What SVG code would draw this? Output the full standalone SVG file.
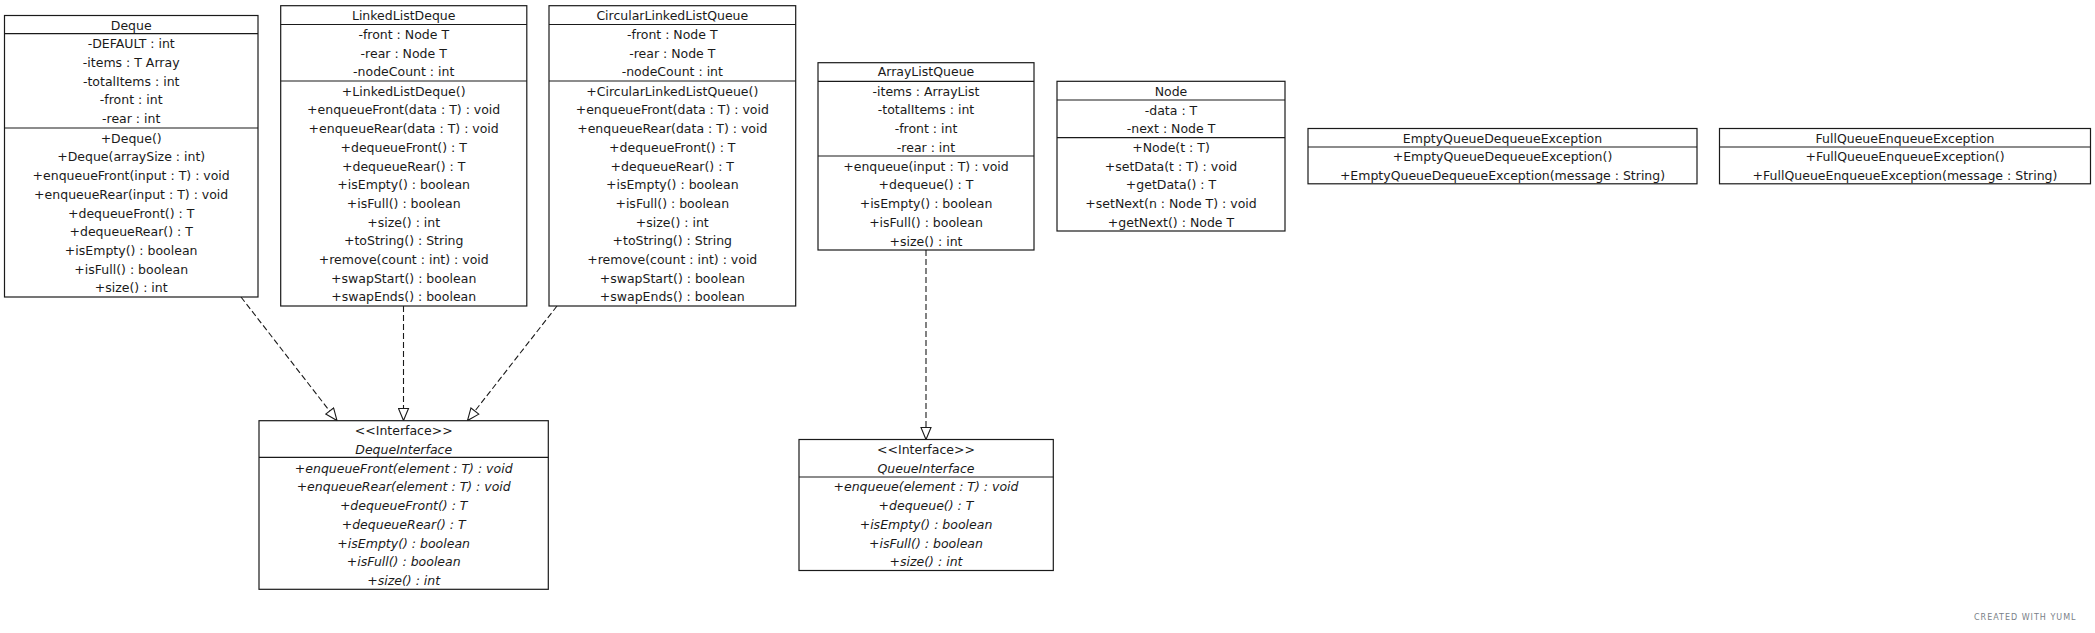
<svg xmlns="http://www.w3.org/2000/svg" width="2095" height="633" viewBox="0 0 2095 633">
<style>
  .box { fill: #ffffff; stroke: #1a1a1a; stroke-width: 1.2; }
  .sep { stroke: #1a1a1a; stroke-width: 1.2; }
  text { font-family: "DejaVu Sans", "Liberation Sans", sans-serif; font-size: 12.5px; fill: #1a1a1a; text-anchor: middle; }
  .it { font-style: italic; }
  .edge { fill: none; stroke: #1a1a1a; stroke-width: 1.1; stroke-dasharray: 6,3; }
  .credit { font-size: 8px; fill: #7a7f88; letter-spacing: 1px; text-anchor: start; }
</style>
<defs>
  <marker id="realize" markerUnits="userSpaceOnUse" markerWidth="14" markerHeight="12" refX="13" refY="6" orient="auto">
    <path d="M1,1 L13,6 L1,11 z" fill="#ffffff" stroke="#1a1a1a" stroke-width="1.1"/>
  </marker>
</defs>
<rect width="2095" height="633" fill="#ffffff"/>

<g id="edges">
  <line class="edge" x1="241" y1="297" x2="337" y2="420.5" marker-end="url(#realize)"/>
  <line class="edge" x1="403.5" y1="306" x2="403.5" y2="420.5" marker-end="url(#realize)"/>
  <line class="edge" x1="557" y1="306" x2="467.5" y2="420.5" marker-end="url(#realize)"/>
  <line class="edge" x1="926" y1="250" x2="926" y2="439.5" marker-end="url(#realize)"/>
</g>

<g id="Deque">
  <rect class="box" x="4.5" y="15.5" width="253.5" height="281.5"/>
  <line class="sep" x1="4.5" y1="33.7" x2="258" y2="33.7"/>
  <line class="sep" x1="4.5" y1="128" x2="258" y2="128"/>
  <text x="131.2" y="29.5">Deque</text>
  <text x="131.2" y="48.3">-DEFAULT : int</text>
  <text x="131.2" y="67">-items : T Array</text>
  <text x="131.2" y="85.7">-totalItems : int</text>
  <text x="131.2" y="104.4">-front : int</text>
  <text x="131.2" y="123.1">-rear : int</text>
  <text x="131.2" y="142.7">+Deque()</text>
  <text x="131.2" y="161.4">+Deque(arraySize : int)</text>
  <text x="131.2" y="180.1">+enqueueFront(input : T) : void</text>
  <text x="131.2" y="198.8">+enqueueRear(input : T) : void</text>
  <text x="131.2" y="217.5">+dequeueFront() : T</text>
  <text x="131.2" y="236.2">+dequeueRear() : T</text>
  <text x="131.2" y="254.9">+isEmpty() : boolean</text>
  <text x="131.2" y="273.6">+isFull() : boolean</text>
  <text x="131.2" y="292.3">+size() : int</text>
</g>

<g id="LinkedListDeque">
  <rect class="box" x="280.7" y="5.7" width="246.1" height="300.3"/>
  <line class="sep" x1="280.7" y1="24.5" x2="526.8" y2="24.5"/>
  <line class="sep" x1="280.7" y1="81" x2="526.8" y2="81"/>
  <text x="403.7" y="20.3">LinkedListDeque</text>
  <text x="403.7" y="39">-front : Node T</text>
  <text x="403.7" y="57.7">-rear : Node T</text>
  <text x="403.7" y="76.4">-nodeCount : int</text>
  <text x="403.7" y="95.7">+LinkedListDeque()</text>
  <text x="403.7" y="114.4">+enqueueFront(data : T) : void</text>
  <text x="403.7" y="133.1">+enqueueRear(data : T) : void</text>
  <text x="403.7" y="151.8">+dequeueFront() : T</text>
  <text x="403.7" y="170.5">+dequeueRear() : T</text>
  <text x="403.7" y="189.2">+isEmpty() : boolean</text>
  <text x="403.7" y="207.9">+isFull() : boolean</text>
  <text x="403.7" y="226.6">+size() : int</text>
  <text x="403.7" y="245.3">+toString() : String</text>
  <text x="403.7" y="264">+remove(count : int) : void</text>
  <text x="403.7" y="282.7">+swapStart() : boolean</text>
  <text x="403.7" y="301.4">+swapEnds() : boolean</text>
</g>

<g id="CircularLinkedListQueue">
  <rect class="box" x="549" y="5.7" width="246.7" height="300.3"/>
  <line class="sep" x1="549" y1="24.5" x2="795.7" y2="24.5"/>
  <line class="sep" x1="549" y1="81" x2="795.7" y2="81"/>
  <text x="672.3" y="20.3">CircularLinkedListQueue</text>
  <text x="672.3" y="39">-front : Node T</text>
  <text x="672.3" y="57.7">-rear : Node T</text>
  <text x="672.3" y="76.4">-nodeCount : int</text>
  <text x="672.3" y="95.7">+CircularLinkedListQueue()</text>
  <text x="672.3" y="114.4">+enqueueFront(data : T) : void</text>
  <text x="672.3" y="133.1">+enqueueRear(data : T) : void</text>
  <text x="672.3" y="151.8">+dequeueFront() : T</text>
  <text x="672.3" y="170.5">+dequeueRear() : T</text>
  <text x="672.3" y="189.2">+isEmpty() : boolean</text>
  <text x="672.3" y="207.9">+isFull() : boolean</text>
  <text x="672.3" y="226.6">+size() : int</text>
  <text x="672.3" y="245.3">+toString() : String</text>
  <text x="672.3" y="264">+remove(count : int) : void</text>
  <text x="672.3" y="282.7">+swapStart() : boolean</text>
  <text x="672.3" y="301.4">+swapEnds() : boolean</text>
</g>

<g id="ArrayListQueue">
  <rect class="box" x="818" y="62.7" width="216" height="187.3"/>
  <line class="sep" x1="818" y1="81.3" x2="1034" y2="81.3"/>
  <line class="sep" x1="818" y1="156" x2="1034" y2="156"/>
  <text x="926" y="76.3">ArrayListQueue</text>
  <text x="926" y="95.7">-items : ArrayList</text>
  <text x="926" y="114.4">-totalItems : int</text>
  <text x="926" y="133.1">-front : int</text>
  <text x="926" y="151.8">-rear : int</text>
  <text x="926" y="170.7">+enqueue(input : T) : void</text>
  <text x="926" y="189.4">+dequeue() : T</text>
  <text x="926" y="208.1">+isEmpty() : boolean</text>
  <text x="926" y="226.8">+isFull() : boolean</text>
  <text x="926" y="245.5">+size() : int</text>
</g>

<g id="Node">
  <rect class="box" x="1057" y="81.3" width="228" height="149.7"/>
  <line class="sep" x1="1057" y1="100" x2="1285" y2="100"/>
  <line class="sep" x1="1057" y1="137.7" x2="1285" y2="137.7"/>
  <text x="1171" y="95.7">Node</text>
  <text x="1171" y="114.7">-data : T</text>
  <text x="1171" y="133.4">-next : Node T</text>
  <text x="1171" y="152">+Node(t : T)</text>
  <text x="1171" y="170.7">+setData(t : T) : void</text>
  <text x="1171" y="189.4">+getData() : T</text>
  <text x="1171" y="208.1">+setNext(n : Node T) : void</text>
  <text x="1171" y="226.8">+getNext() : Node T</text>
</g>

<g id="EmptyQueueDequeueException">
  <rect class="box" x="1308" y="128.5" width="389" height="55.3"/>
  <line class="sep" x1="1308" y1="147" x2="1697" y2="147"/>
  <text x="1502.5" y="142.7">EmptyQueueDequeueException</text>
  <text x="1502.5" y="161.3">+EmptyQueueDequeueException()</text>
  <text x="1502.5" y="180">+EmptyQueueDequeueException(message : String)</text>
</g>

<g id="FullQueueEnqueueException">
  <rect class="box" x="1719.5" y="128.5" width="371" height="55.3"/>
  <line class="sep" x1="1719.5" y1="147" x2="2090.5" y2="147"/>
  <text x="1905" y="142.7">FullQueueEnqueueException</text>
  <text x="1905" y="161.3">+FullQueueEnqueueException()</text>
  <text x="1905" y="180">+FullQueueEnqueueException(message : String)</text>
</g>

<g id="DequeInterface">
  <rect class="box" x="259" y="420.7" width="289.3" height="168.6"/>
  <line class="sep" x1="259" y1="457.3" x2="548.3" y2="457.3"/>
  <text x="403.7" y="435.3">&lt;&lt;Interface&gt;&gt;</text>
  <text class="it" x="403.7" y="454">DequeInterface</text>
  <text class="it" x="403.7" y="472.7">+enqueueFront(element : T) : void</text>
  <text class="it" x="403.7" y="491.4">+enqueueRear(element : T) : void</text>
  <text class="it" x="403.7" y="510.1">+dequeueFront() : T</text>
  <text class="it" x="403.7" y="528.8">+dequeueRear() : T</text>
  <text class="it" x="403.7" y="547.5">+isEmpty() : boolean</text>
  <text class="it" x="403.7" y="566.2">+isFull() : boolean</text>
  <text class="it" x="403.7" y="584.9">+size() : int</text>
</g>

<g id="QueueInterface">
  <rect class="box" x="799" y="439.5" width="254.3" height="131"/>
  <line class="sep" x1="799" y1="477" x2="1053.3" y2="477"/>
  <text x="926" y="454">&lt;&lt;Interface&gt;&gt;</text>
  <text class="it" x="926" y="472.7">QueueInterface</text>
  <text class="it" x="926" y="491.4">+enqueue(element : T) : void</text>
  <text class="it" x="926" y="510.1">+dequeue() : T</text>
  <text class="it" x="926" y="528.8">+isEmpty() : boolean</text>
  <text class="it" x="926" y="547.5">+isFull() : boolean</text>
  <text class="it" x="926" y="566.2">+size() : int</text>
</g>

<text class="credit" x="1974" y="619.5">CREATED WITH YUML</text>
</svg>
